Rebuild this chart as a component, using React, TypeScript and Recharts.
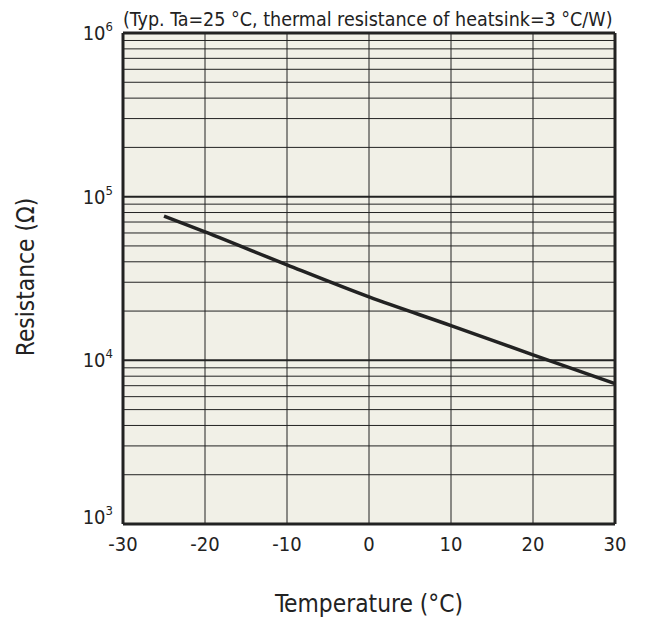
import { LineChart, Line, XAxis, YAxis, CartesianGrid, ReferenceLine, Label } from 'recharts';

const temperatures = [-25, -20, -10, 0, 10, 20, 30];
const resistances = [76000, 61000, 38300, 24400, 16300, 10800, 7200];

const xTicks = [-30, -20, -10, 0, 10, 20, 30];
const yTicks = [1000, 10000, 100000, 1000000];
const minorMultipliers = [2, 3, 4, 5, 6, 7, 8, 9];
const decades = [1000, 10000, 100000];

const TITLE = '(Typ. Ta=25 °C, thermal resistance of heatsink=3 °C/W)';
const X_LABEL = 'Temperature (°C)';
const Y_LABEL = 'Resistance (Ω)';

const FONT = '"DejaVu Sans Condensed", "DejaVu Sans", sans-serif';
const INK = '#222222';
const PAPER = '#f1f0e7';

const data = temperatures.map((t, i) => ({ t, r: resistances[i] }));
const minorLines = decades.flatMap((d) => minorMultipliers.map((m) => d * m));

function XTick({ x, y, payload }: any) {
  return (
    <text x={x} y={y + 27} textAnchor="middle" fontFamily={FONT} fontSize={20} fill={INK}>
      {payload.value}
    </text>
  );
}

function YTick({ x, y, payload }: any) {
  const exp = Math.round(Math.log10(payload.value));
  const base = exp === 3 ? y : y + 7;
  return (
    <text x={x - 10} y={base} textAnchor="end" fontFamily={FONT} fontSize={20} fill={INK}>
      <tspan>10</tspan>
      <tspan dy={-9} fontSize={13}>{exp}</tspan>
    </text>
  );
}

export default function App() {
  return (
    <div style={{ position: 'fixed', left: 0, top: 0, background: '#fff' }}>
      <LineChart width={651} height={623} data={data} margin={{ top: 33, right: 36, bottom: 0, left: 0 }}>
        <CartesianGrid fill={PAPER} horizontal={false} stroke={INK} strokeWidth={1} />
        <XAxis
          type="number"
          dataKey="t"
          domain={[-30, 30]}
          ticks={xTicks}
          height={99}
          tickSize={0}
          tickMargin={0}
          tick={<XTick />}
          axisLine={{ stroke: INK, strokeWidth: 3 }}
          tickLine={false}
        >
          <Label
            content={() => (
              <text x={369} y={612} textAnchor="middle" fontFamily={FONT} fontSize={24.3} fill={INK}>
                {X_LABEL}
              </text>
            )}
          />
        </XAxis>
        <YAxis
          type="number"
          dataKey="r"
          scale="log"
          domain={[1000, 1000000]}
          allowDataOverflow
          ticks={yTicks}
          width={123}
          tickSize={0}
          tickMargin={0}
          tick={<YTick />}
          axisLine={{ stroke: INK, strokeWidth: 3 }}
          tickLine={false}
        >
          <Label
            content={() => (
              <text
                x={34}
                y={277}
                transform="rotate(-90 34 277)"
                textAnchor="middle"
                fontFamily={FONT}
                fontSize={24.3}
                fill={INK}
              >
                {Y_LABEL}
              </text>
            )}
          />
        </YAxis>
        {minorLines.map((v) => (
          <ReferenceLine key={v} y={v} stroke={INK} strokeWidth={1} />
        ))}
        {decades.map((v) => (
          <ReferenceLine key={'d' + v} y={v} stroke={INK} strokeWidth={2} />
        ))}
        <ReferenceLine y={1000000} stroke={INK} strokeWidth={3}>
          <Label
            content={() => (
              <text x={123} y={26} textAnchor="start" fontFamily={FONT} fontSize={19.5} fill={INK}>
                {TITLE}
              </text>
            )}
          />
        </ReferenceLine>
        <ReferenceLine x={30} stroke={INK} strokeWidth={3} />
        <Line
          type="monotone"
          dataKey="r"
          stroke={INK}
          strokeWidth={3.5}
          dot={false}
          isAnimationActive={false}
        />
      </LineChart>
    </div>
  );
}
